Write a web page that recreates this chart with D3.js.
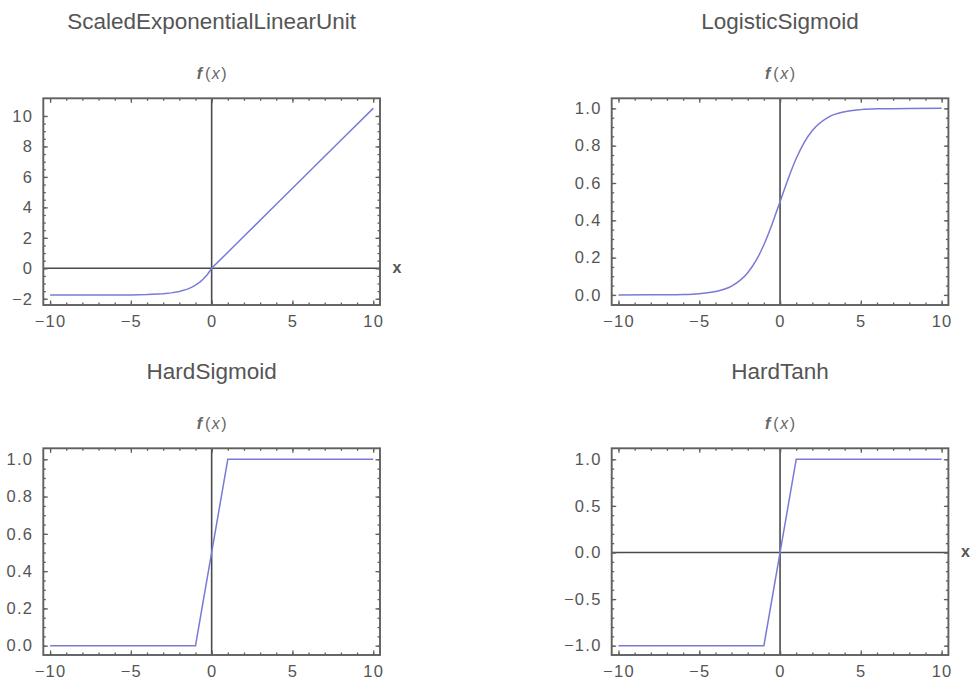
<!DOCTYPE html>
<html>
<head>
<meta charset="utf-8">
<script src="https://cdn.jsdelivr.net/npm/d3@7"></script>
<style>
  body { margin: 0; background: #fff; }
  text { font-family: "Liberation Sans", Arial, sans-serif; }
</style>
</head>
<body>
<div id="chart"></div>
<script>
// values
const titles = ["ScaledExponentialLinearUnit", "LogisticSigmoid", "HardSigmoid", "HardTanh"]
const xTicks = [-10, -5, 0, 5, 10]

const seluX = [-10, -8, -6, -5, -4, -3, -2.5, -2, -1.5, -1.25, -1, -0.75, -0.5, -0.25, 0, 2, 4, 6, 8, 10]
const seluY = [-1.758, -1.758, -1.754, -1.746, -1.726, -1.671, -1.614, -1.52, -1.366, -1.254, -1.111, -0.928, -0.692, -0.389, 0, 2.1, 4.2, 6.3, 8.4, 10.5]

const sigX = [-10, -8, -6, -5, -4, -3, -2, -1.5, -1, -0.5, 0, 0.5, 1, 1.5, 2, 3, 4, 5, 6, 8, 10]
const sigY = [0.0, 0.0003, 0.0025, 0.0067, 0.018, 0.047, 0.119, 0.182, 0.269, 0.378, 0.5, 0.622, 0.731, 0.818, 0.881, 0.953, 0.982, 0.9933, 0.9975, 0.9997, 1.0]

const hsigX = [-10, -1, 1, 10]
const hsigY = [0, 0, 1, 1]

const htanhX = [-10, -1, 1, 10]
const htanhY = [-1, -1, 1, 1]

const seluTicks = [-2, 0, 2, 4, 6, 8, 10]
const unitTicks = [0, 0.2, 0.4, 0.6, 0.8, 1.0]
const tanhTicks = [-1, -0.5, 0, 0.5, 1]

const panels = [
  { title: titles[0], xs: seluX, ys: seluY, yTicks: seluTicks, yMinor: 0.5, yDomain: [-2.41, 11.16], fmt: d3.format("d"), xAxis: true, smooth: false },
  { title: titles[1], xs: sigX, ys: sigY, yTicks: unitTicks, yMinor: 0.05, yDomain: [-0.054, 1.054], fmt: d3.format(".1f"), xAxis: false, smooth: true },
  { title: titles[2], xs: hsigX, ys: hsigY, yTicks: unitTicks, yMinor: 0.05, yDomain: [-0.05, 1.059], fmt: d3.format(".1f"), xAxis: false, smooth: false },
  { title: titles[3], xs: htanhX, ys: htanhY, yTicks: tanhTicks, yMinor: 0.1, yDomain: [-1.1, 1.118], fmt: d3.format(".1f"), xAxis: true, smooth: false }
]

const W = 973, H = 684
const fw = 336.7, fh = 206.7
const lefts = [43.3, 611.7], tops = [98.3, 448.3]
const curveColor = "#7a7ad6", frameColor = "#606060", axisColor = "#4a4a4a", textColor = "#555"

const svg = d3.select("#chart").append("svg").attr("width", W).attr("height", H)

const range = (a, b, s) => d3.range(Math.round(a / s), Math.round(b / s) + 1).map((i) => +(i * s).toFixed(4))

panels.forEach((p, i) => {
  const g = svg.append("g").attr("transform", `translate(${lefts[i % 2]},${tops[Math.floor(i / 2)]})`)

  const x = d3.scaleLinear().domain([-10.42, 10.42]).range([0, fw])
  const y = d3.scaleLinear().domain(p.yDomain).range([fh, 0])

  // title and axis labels
  g.append("text").attr("x", fw / 2).attr("y", -69).attr("text-anchor", "middle")
    .attr("font-size", 22.5).attr("fill", textColor).text(p.title)

  const fl = g.append("text").attr("x", x(0) - 15).attr("y", -19)
    .attr("font-size", 16).attr("fill", "#666")
  fl.append("tspan").attr("font-style", "italic").attr("font-weight", "bold").text("f")
  fl.append("tspan").attr("dx", 3).text("(")
  fl.append("tspan").attr("dx", 1.5).attr("font-style", "italic").text("x")
  fl.append("tspan").attr("dx", 1.5).text(")")

  // axes through the origin
  g.append("line").attr("x1", x(0)).attr("x2", x(0)).attr("y1", 0).attr("y2", fh)
    .attr("stroke", axisColor).attr("stroke-width", 1.6)
  if (p.xAxis) {
    g.append("line").attr("x1", 0).attr("x2", fw).attr("y1", y(0)).attr("y2", y(0))
      .attr("stroke", axisColor).attr("stroke-width", 1.6)
    g.append("text").attr("x", fw + 17).attr("y", y(0) + 5).attr("text-anchor", "middle")
      .attr("font-size", 16).attr("font-weight", "bold").attr("fill", "#555").text("x")
  }

  // frame ticks: major + minor, pointing inward, mirrored on top/right
  const xMinor = range(-10, 10, 1)
  const yMinor = range(p.yTicks[0], p.yTicks[p.yTicks.length - 1], p.yMinor)

  const addAxis = (axis, tr, labels) => {
    const a = g.append("g").attr("transform", tr).call(axis)
    a.select(".domain").remove()
    a.selectAll("line").attr("stroke", frameColor).attr("stroke-width", 1.3)
    if (!labels) a.selectAll("text").remove()
    else a.selectAll("text").attr("fill", textColor).attr("font-size", 16.5)
      .attr("letter-spacing", 1.3).attr("font-family", null)
    return a
  }

  addAxis(d3.axisBottom(x).tickValues(xMinor).tickSize(-2.5).tickFormat(""), `translate(0,${fh})`, false)
  addAxis(d3.axisTop(x).tickValues(xMinor).tickSize(-2.5).tickFormat(""), "translate(0,0)", false)
  addAxis(d3.axisLeft(y).tickValues(yMinor).tickSize(-2.5).tickFormat(""), "translate(0,0)", false)
  addAxis(d3.axisRight(y).tickValues(yMinor).tickSize(-2.5).tickFormat(""), `translate(${fw},0)`, false)

  const xb = addAxis(d3.axisBottom(x).tickValues(xTicks).tickSizeInner(-4.5).tickSizeOuter(0).tickPadding(10).tickFormat(d3.format("d")), `translate(0,${fh})`, true)
  xb.selectAll("text").attr("dy", "0.71em")
  addAxis(d3.axisTop(x).tickValues(xTicks).tickSize(-4.5).tickFormat(""), "translate(0,0)", false)
  addAxis(d3.axisLeft(y).tickValues(p.yTicks).tickSizeInner(-4.5).tickSizeOuter(0).tickPadding(10).tickFormat(p.fmt), "translate(0,0)", true)
  addAxis(d3.axisRight(y).tickValues(p.yTicks).tickSize(-4.5).tickFormat(""), `translate(${fw},0)`, false)

  // curve
  const clipId = "clip" + i
  g.append("clipPath").attr("id", clipId).append("rect").attr("width", fw).attr("height", fh)
  const pts = p.xs.map((d, k) => [d, p.ys[k]])
  g.append("path").datum(pts).attr("clip-path", `url(#${clipId})`)
    .attr("fill", "none").attr("stroke", curveColor).attr("stroke-width", 1.5)
    .attr("d", d3.line().x((d) => x(d[0])).y((d) => y(d[1])).curve(p.smooth ? d3.curveMonotoneX : d3.curveLinear))

  // frame
  g.append("rect").attr("width", fw).attr("height", fh).attr("fill", "none")
    .attr("stroke", frameColor).attr("stroke-width", 1.9)
})
</script>
</body>
</html>
